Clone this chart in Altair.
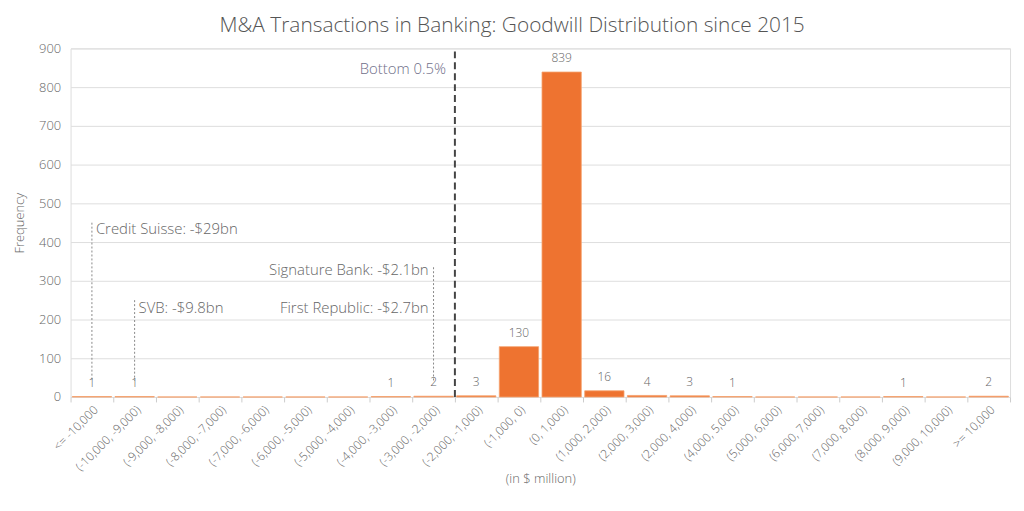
import altair as alt
import pandas as pd

categories = [
    "<= -10,000", "(-10,000, -9,000)", "(-9,000, -8,000)", "(-8,000, -7,000)",
    "(-7,000, -6,000)", "(-6,000, -5,000)", "(-5,000, -4,000)", "(-4,000, -3,000)",
    "(-3,000, -2,000)", "(-2,000, -1,000)", "(-1,000, 0)", "(0, 1,000)",
    "(1,000, 2,000)", "(2,000, 3,000)", "(2,000, 4,000)", "(4,000, 5,000)",
    "(5,000, 6,000)", "(6,000, 7,000)", "(7,000, 8,000)", "(8,000, 9,000)",
    "(9,000, 10,000)", ">= 10,000",
]
counts = [1, 1, 0, 0, 0, 0, 0, 1, 2, 3, 130, 839, 16, 4, 3, 1, 0, 0, 0, 1, 0, 2]
y_ticks = [0, 100, 200, 300, 400, 500, 600, 700, 800, 900]

# annotation guide lines (dotted)
line_cats = ["<= -10,000", "(-10,000, -9,000)", "(-3,000, -2,000)"]
line_top = [450, 250, 335]
line_bottom = [42, 42, 42]

# annotation texts
left_cats = ["<= -10,000", "(-10,000, -9,000)"]
left_texts = ["Credit Suisse: -$29bn", "SVB: -$9.8bn"]
left_y = [433, 230]
right_cats = ["(-3,000, -2,000)", "(-3,000, -2,000)"]
right_texts = ["Signature Bank: -$2.1bn", "First Republic: -$2.7bn"]
right_y = [328, 230]

# threshold line
threshold_cat = ["(-3,000, -2,000)"]
threshold_label = ["Bottom 0.5%"]
threshold_label_y = [846]

FONT = "Open Sans"
FW = 300
W, H = 946, 351

bars_df = pd.DataFrame({"cat": categories, "count": counts})
lines_df = pd.DataFrame({"cat": line_cats, "top": line_top, "bottom": line_bottom})
left_df = pd.DataFrame({"cat": left_cats, "text": left_texts, "y": left_y})
right_df = pd.DataFrame({"cat": right_cats, "text": right_texts, "y": right_y})
thr_df = pd.DataFrame({"cat": threshold_cat, "y0": [0], "y1": [900],
                       "label": threshold_label, "ly": threshold_label_y})

x_scale = alt.Scale(domain=categories, paddingInner=0, paddingOuter=0)
y_scale = alt.Scale(domain=[0, 900])

x_axis = alt.Axis(title="(in $ million)", labelAngle=-45, labelFontSize=12,
                  labelColor="#666", titleColor="#666", titleFontSize=13,
                  titleFontWeight=FW, labelFontWeight=FW, titlePadding=0,
                  tickBand="extent", tickColor="#cccccc", tickSize=5,
                  domain=False, grid=False, labelPadding=2,
                  labelFont=FONT, titleFont=FONT)
y_axis = alt.Axis(title="Frequency", values=y_ticks, labelOverlap=False,
                  labelFontSize=13, labelColor="#666", titleColor="#666",
                  titleFontSize=13, titleFontWeight=FW, labelFontWeight=FW,
                  ticks=False, domain=False, gridColor="#dedede",
                  labelPadding=10, titlePadding=12, labelFont=FONT,
                  titleFont=FONT)


def X(field="cat:N", **kw):
    return alt.X(field, scale=x_scale, sort=categories, axis=x_axis, **kw)


def Y(field):
    return alt.Y(field, scale=y_scale, axis=y_axis)


bars = alt.Chart(bars_df).mark_bar(
    color="#EE7330", stroke="#F5A26E", strokeWidth=0.8,
    width=alt.RelativeBandSize(0.92),
).encode(x=X(), y=Y("count:Q"))

labels = alt.Chart(bars_df).transform_filter("datum.count > 0").mark_text(
    baseline="bottom", dy=-7, fontSize=12, color="#666", font=FONT,
    fontWeight=FW,
).encode(x=X(), y=Y("count:Q"), text="count:Q")

guide_lines = alt.Chart(lines_df).mark_rule(
    strokeDash=[2, 2], color="#888", strokeWidth=1
).encode(x=X(), y=Y("top:Q"), y2="bottom:Q")

left_text = alt.Chart(left_df).mark_text(
    align="left", dx=4, fontSize=15, color="#666", font=FONT, fontWeight=FW
).encode(x=X(), y=Y("y:Q"), text="text:N")

right_text = alt.Chart(right_df).mark_text(
    align="right", dx=-5, fontSize=15, color="#666", font=FONT, fontWeight=FW
).encode(x=X(), y=Y("y:Q"), text="text:N")

thr_line = alt.Chart(thr_df).mark_rule(
    strokeDash=[7, 4], color="#444", strokeWidth=2
).encode(x=X(bandPosition=1), y=Y("y0:Q"), y2="y1:Q")

thr_text = alt.Chart(thr_df).mark_text(
    align="right", dx=-9, fontSize=15, color="#6E6E88", font=FONT,
    fontWeight=FW,
).encode(x=X(bandPosition=1), y=Y("ly:Q"), text="label:N")

chart = alt.layer(
    bars, labels, guide_lines, left_text, right_text, thr_line, thr_text
).properties(
    width=W, height=H,
    title=alt.TitleParams(
        "M&A Transactions in Banking: Goodwill Distribution since 2015",
        fontSize=21, color="#555", font=FONT, fontWeight=FW,
        anchor="middle", frame="bounds", offset=7,
    ),
).configure_view(fill="#F2F2F2", strokeWidth=0).configure(font=FONT)

chart.save("out.html", embed_options={"renderer": "svg", "actions": False})
